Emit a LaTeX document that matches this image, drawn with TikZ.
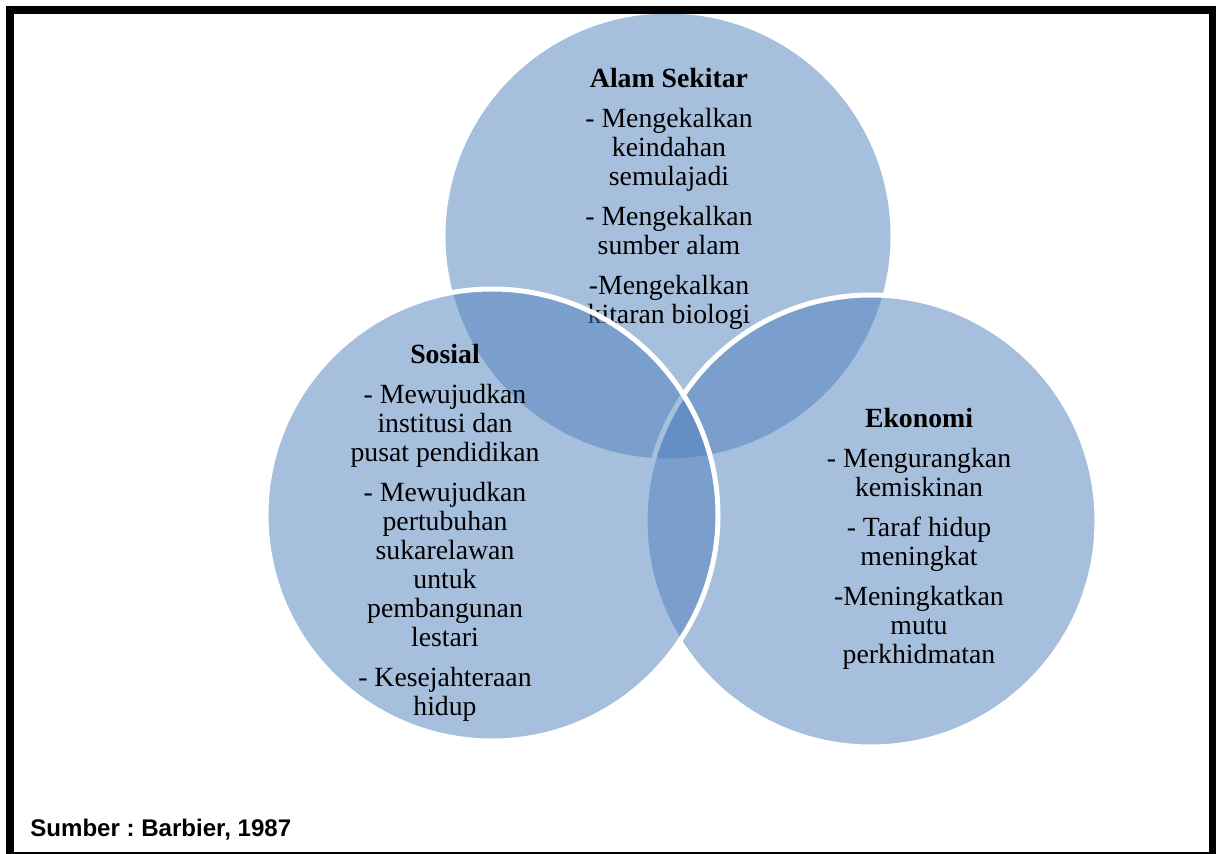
\documentclass[tikz,border=0pt]{standalone}
\usepackage{fontspec}
\setmainfont{Liberation Serif}
\newfontfamily\notefont{Liberation Sans}
\usetikzlibrary{positioning}

\definecolor{vennblue}{HTML}{4F81BD}

\begin{document}
\begin{tikzpicture}[x=0.02cm,y=-0.02cm,
  ring/.style={fill=vennblue,fill opacity=0.5,draw=white,line width=0.1cm},
  words/.style={align=center,inner sep=0,anchor=north,
    font=\fontsize{15.8pt}{16.5pt}\selectfont}]
 \clip (0,0) rectangle (1216,854);
 \fill[white] (0,0) rectangle (1216,854);
 % top circle
 \filldraw[ring] (668,236) circle (225);
 \node[words] (alam) at (669,68) {\textbf{Alam Sekitar}\\[6.2pt]
   - Mengekalkan\\ keindahan\\ semulajadi\\[6.2pt]
   - Mengekalkan\\ sumber alam\\[6.2pt]
   -Mengekalkan\\ kitaran biologi};
 % right circle
 \filldraw[ring] (871,521) circle (226);
 \node[words] (ekonomi) at (919,408) {\textbf{Ekonomi}\\[6.2pt]
   - Mengurangkan\\ kemiskinan\\[6.2pt]
   - Taraf hidup\\ meningkat\\[6.2pt]
   -Meningkatkan\\ mutu\\ perkhidmatan};
 % left circle
 \filldraw[ring] (492,515) circle (226);
 \node[words] (sosial) at (445,344) {\textbf{Sosial}\\[6.2pt]
   - Mewujudkan\\ institusi dan\\ pusat pendidikan\\[6.2pt]
   - Mewujudkan\\ pertubuhan\\ sukarelawan\\ untuk\\ pembangunan\\ lestari\\[6.2pt]
   - Kesejahteraan\\ hidup};
 % source
 \node[anchor=base west,inner sep=0,font=\notefont\bfseries\fontsize{13.7pt}{15pt}\selectfont\frenchspacing]
   (sumber) at (30,836) {Sumber : Barbier, 1987};
 % frame
 \draw[line width=0.15cm] (10,10) rectangle (1212.5,856);
\end{tikzpicture}
\end{document}
